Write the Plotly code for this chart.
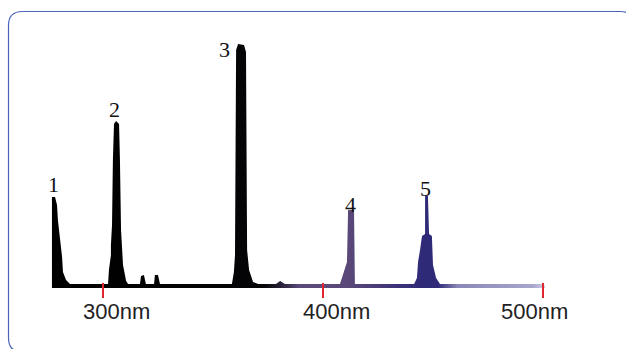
import plotly.graph_objects as go

# Spectrum outline: wavelength (nm) and relative intensity (peak 3 = 100)
wavelength = [276.8, 276.8, 278.2, 279.1, 279.5, 280.5, 281.4, 281.8, 283.2, 285.0,
              302.3, 302.7, 303.6, 303.6, 304.1, 304.5, 305.0, 305.9, 307.3, 307.7, 308.2, 309.1, 310.5, 311.4,
              316.8, 317.3, 318.6, 319.5, 323.2, 323.6, 325.0, 325.9,
              358.6, 359.5, 360.0, 360.5, 361.4, 364.1, 365.0, 365.5, 366.4, 368.2, 370.5,
              378.6, 380.5, 382.7,
              407.7, 408.6, 410.0, 410.9, 411.4, 414.1, 414.5,
              441.4, 442.7, 443.2, 444.1, 445.0, 446.4, 446.4, 447.7, 448.2, 449.5, 450.0, 451.4, 453.2,
              500.5, 501.0]
intensity = [0, 37.3, 37.3, 34.0, 27.9, 19.7, 12.7, 6.6, 3.3, 1.6,
             1.6, 7.4, 13.5, 17.6, 25.8, 52.5, 67.2, 68.4, 67.2, 52.5, 23.8, 9.4, 2.9, 1.6,
             1.6, 4.9, 5.3, 1.6, 1.6, 5.3, 5.3, 1.6,
             1.6, 6.6, 13.5, 97.5, 100, 99.6, 96.7, 15.6, 7.4, 2.5, 1.6,
             1.6, 2.9, 1.6,
             1.6, 4.1, 8.2, 10.7, 32.0, 32.0, 1.6,
             1.6, 4.1, 10.7, 15.6, 21.3, 22.1, 37.7, 37.7, 22.1, 21.3, 9.4, 4.1, 1.6,
             1.6, 0]
assert len(wavelength) == len(intensity)

# Peak labels
peak_labels = ["1", "2", "3", "4", "5"]
peak_wavelength = [277.5, 305.9, 362.7, 412.7, 447.0]
peak_intensity = [37.3, 68.4, 100, 32.0, 37.7]

# Axis ticks
tick_values = [300, 400, 500]
tick_labels = ["300nm", "400nm", "500nm"]

W, H = 626, 349
L, R, T, B = 37, 39, 44, 51
X_RANGE = [270, 520]
Y_RANGE = [-4.1, 100]

fig = go.Figure()
fig.add_trace(go.Scatter(
    x=wavelength, y=intensity, mode="lines",
    line=dict(width=0, color="rgba(0,0,0,0)"),
    fill="tozeroy",
    fillgradient=dict(
        type="horizontal", start=276, stop=502,
        colorscale=[[0.0, "#000000"], [0.43, "#050407"], [0.48, "#3a3050"],
                    [0.50, "#5a4a7a"], [0.60, "#5a4878"], [0.70, "#3c3278"],
                    [0.75, "#2e2a78"], [0.78, "#2e2a78"], [0.82, "#8a88b8"],
                    [0.97, "#a8a6cc"], [1.0, "#d4d2e8"]]),
    hoverinfo="skip", showlegend=False))

offsets = [(0, 12), (-1, 12), (-16, -5), (0, 5), (-1, 8)]
for lab, xw, yi, (dx, dy) in zip(peak_labels, peak_wavelength, peak_intensity, offsets):
    fig.add_annotation(x=xw, y=yi, text=lab, showarrow=False, xshift=dx, yshift=dy,
                       xanchor="center", yanchor="middle",
                       font=dict(family="Liberation Serif", size=22, color="#111111"))

pw, ph = W - L - R, H - T - B
def px(x):
    return (x - L) / pw
def py(y):
    return (H - B - y) / ph

# tick labels as annotations (they sit slightly off their ticks in the original)
label_shifts = [13, 13, -9]
for tv, tl, dx in zip(tick_values, tick_labels, label_shifts):
    fig.add_annotation(x=tv, xref="x", y=py(311), yref="paper", text=tl, showarrow=False,
                       xshift=dx, xanchor="center", yanchor="middle",
                       font=dict(family="Liberation Sans", size=22, color="#222222"))

# rounded border panel
x0, y0, x1, y1, r = 8.5, 11.5, 634, 352, 14
path = (f"M {px(x0)},{py(y0 + r)} Q {px(x0)},{py(y0)} {px(x0 + r)},{py(y0)} "
        f"L {px(x1 - r)},{py(y0)} Q {px(x1)},{py(y0)} {px(x1)},{py(y0 + r)} "
        f"L {px(x1)},{py(y1 - r)} Q {px(x1)},{py(y1)} {px(x1 - r)},{py(y1)} "
        f"L {px(x0 + r)},{py(y1)} Q {px(x0)},{py(y1)} {px(x0)},{py(y1 - r)} Z")
fig.add_shape(type="path", path=path, xref="paper", yref="paper",
              line=dict(color="#4a62b8", width=1.2), layer="below")

fig.update_layout(
    width=W, height=H, margin=dict(l=L, r=R, t=T, b=B),
    paper_bgcolor="white", plot_bgcolor="rgba(0,0,0,0)",
    xaxis=dict(range=X_RANGE, tickvals=tick_values, showticklabels=False,
               ticks="inside", ticklen=15, tickwidth=2, tickcolor="#e3262e",
               showgrid=False, zeroline=False, showline=False),
    yaxis=dict(range=Y_RANGE, visible=False),
)
fig.write_html("out.html", config={"displayModeBar": False})
